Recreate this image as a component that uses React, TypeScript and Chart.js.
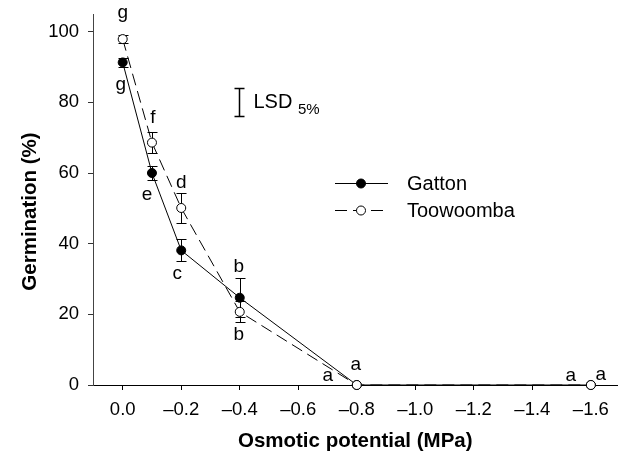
import { useEffect, useRef } from 'react';
import { Chart, registerables } from 'chart.js';

Chart.register(...registerables);

// ---- data ----
const potentials = [0, -0.1, -0.2, -0.4, -0.8, -1.6];
const gatton = [91.3, 60, 38.1, 24.7, 0, 0];
const gattonErr = [1.2, 2.1, 3.1, 5.5, 0, 0];
const gattonLetters = ['g', 'e', 'c', 'b', 'a', 'a'];
const toowoomba = [97.9, 68.6, 50.1, 20.7, 0, 0];
const toowoombaErr = [1.1, 3, 4.2, 3, 0, 0];
const toowoombaLetters = ['g', 'f', 'd', 'b', 'a', 'a'];
const xTickValues = [0, -0.2, -0.4, -0.6, -0.8, -1.0, -1.2, -1.4, -1.6];
const yTickValues = [0, 20, 40, 60, 80, 100];
const lsdAt = -0.4;
const lsdCenter = 80;
const lsdSize = 8;
const seriesNames = ['Gatton', 'Toowoomba'];
const xTitle = 'Osmotic potential (MPa)';
const yTitle = 'Germination (%)';

const FONT = '"Liberation Sans", Arial, sans-serif';

// letter placement offsets (px) relative to each point
const gattonLetterOffsets = [[-2, 22], [-5, 22], [-4, 23], [-1, -31], [-29, -9], [-20, -9]];
const toowoombaLetterOffsets = [[0, -26], [1, -25], [0, -25], [-1, 23], [-1, -20], [10, -10]];

const fmtX = (v: number) => (Math.abs(v) < 1e-9 ? '0.0' : '\u2013' + Math.abs(v).toFixed(1));

const annotate = {
  id: 'annotate',
  beforeDatasetsDraw(chart: any) {
    const { ctx, scales } = chart;
    const x = scales.x, y = scales.y;
    ctx.save();
    ctx.strokeStyle = '#000';
    ctx.lineWidth = 1;
    const sets: [number[], number[]][] = [[gatton, gattonErr], [toowoomba, toowoombaErr]];
    for (const [vals, errs] of sets) {
      vals.forEach((v, i) => {
        if (!errs[i]) return;
        const px = Math.round(x.getPixelForValue(potentials[i])) + 0.5;
        const t = Math.round(y.getPixelForValue(v + errs[i])) + 0.5;
        const b = Math.round(y.getPixelForValue(v - errs[i])) + 0.5;
        ctx.beginPath();
        ctx.moveTo(px, t); ctx.lineTo(px, b);
        ctx.moveTo(px - 5, t); ctx.lineTo(px + 5, t);
        ctx.moveTo(px - 5, b); ctx.lineTo(px + 5, b);
        ctx.stroke();
      });
    }
    ctx.restore();
  },
  afterDraw(chart: any) {
    const { ctx, scales, chartArea } = chart;
    const x = scales.x, y = scales.y;
    ctx.save();
    ctx.fillStyle = '#000';
    ctx.strokeStyle = '#000';
    // significance letters
    ctx.font = `19px ${FONT}`;
    ctx.textAlign = 'center';
    ctx.textBaseline = 'middle';
    const letterSets: [number[], string[], number[][]][] = [
      [gatton, gattonLetters, gattonLetterOffsets],
      [toowoomba, toowoombaLetters, toowoombaLetterOffsets],
    ];
    for (const [vals, letters, offs] of letterSets) {
      vals.forEach((v, i) => {
        const px = x.getPixelForValue(potentials[i]);
        const py = y.getPixelForValue(v);
        ctx.fillText(letters[i], px + offs[i][0], py + offs[i][1]);
      });
    }
    // LSD bar
    const lx = Math.round(x.getPixelForValue(lsdAt)) - 1 + 0.5;
    const lt = Math.round(y.getPixelForValue(lsdCenter + lsdSize / 2)) + 0.5;
    const lb = Math.round(y.getPixelForValue(lsdCenter - lsdSize / 2)) + 0.5;
    ctx.lineWidth = 1.5;
    ctx.beginPath();
    ctx.moveTo(lx, lt); ctx.lineTo(lx, lb);
    ctx.moveTo(lx - 5, lt); ctx.lineTo(lx + 5, lt);
    ctx.moveTo(lx - 5, lb); ctx.lineTo(lx + 5, lb);
    ctx.stroke();
    ctx.textAlign = 'left';
    ctx.font = `20px ${FONT}`;
    const lcy = (lt + lb) / 2;
    ctx.fillText('LSD', lx + 14, lcy);
    const lw = ctx.measureText('LSD ').width;
    ctx.font = `15px ${FONT}`;
    ctx.fillText('5%', lx + 14 + lw, lcy + 7);

    // legend
    const legendRows = [
      { name: seriesNames[0], y: 183, dash: [] as number[], fill: '#000' },
      { name: seriesNames[1], y: 210, dash: [12, 6], fill: '#fff' },
    ];
    for (const r of legendRows) {
      ctx.lineWidth = 1;
      ctx.setLineDash(r.dash);
      ctx.beginPath();
      ctx.moveTo(335, r.y + 0.5); ctx.lineTo(388, r.y + 0.5);
      ctx.stroke();
      ctx.setLineDash([]);
      ctx.beginPath();
      ctx.arc(361, r.y + 0.5, 4.5, 0, Math.PI * 2);
      ctx.fillStyle = r.fill;
      ctx.fill();
      ctx.stroke();
      ctx.fillStyle = '#000';
      ctx.font = `20px ${FONT}`;
      ctx.textAlign = 'left';
      ctx.fillText(r.name, 407, r.y + 1);
    }

    // axis titles
    ctx.font = `bold 20.5px ${FONT}`;
    ctx.textAlign = 'center';
    ctx.textBaseline = 'middle';
    ctx.fillText(xTitle, (chartArea.left + chartArea.right) / 2, 441);
    ctx.translate(30, (chartArea.top + chartArea.bottom) / 2 + 12);
    ctx.rotate(-Math.PI / 2);
    ctx.fillText(yTitle, 0, 0);
    ctx.restore();
  },
};

export default function App() {
  const ref = useRef<HTMLCanvasElement | null>(null);
  useEffect(() => {
    if (!ref.current) return;
    const chart = new Chart(ref.current, {
      type: 'line',
      data: {
        datasets: [
          {
            label: seriesNames[0],
            data: potentials.map((p, i) => ({ x: p, y: gatton[i] })),
            borderColor: '#000',
            borderWidth: 1,
            pointRadius: 4.5,
            pointBackgroundColor: '#000',
            pointBorderColor: '#000',
            pointBorderWidth: 1,
            tension: 0,
            clip: false as any,
            order: 1,
          },
          {
            label: seriesNames[1],
            data: potentials.map((p, i) => ({ x: p, y: toowoomba[i] })),
            borderColor: '#000',
            borderWidth: 1,
            borderDash: [12, 6],
            pointRadius: 4.5,
            pointBackgroundColor: '#fff',
            pointBorderColor: '#000',
            pointBorderWidth: 1,
            tension: 0,
            clip: false as any,
            order: 0,
          },
        ],
      },
      options: {
        responsive: false,
        animation: false,
        layout: { padding: { top: 14, left: 0, right: 0, bottom: 0 } },
        plugins: { legend: { display: false }, tooltip: { enabled: false } },
        scales: {
          x: {
            type: 'linear',
            reverse: true,
            min: -1.691,
            max: 0.1015,
            afterBuildTicks: (s: any) => { s.ticks = xTickValues.map((v) => ({ value: v })); },
            afterFit: (s: any) => { s.height = 79; s.paddingLeft = 0; s.paddingRight = 0; },
            grid: { display: true, drawOnChartArea: false, drawTicks: true, tickLength: 5, tickColor: '#000', color: '#000' },
            border: { display: true, color: '#000', width: 1 },
            ticks: {
              color: '#000',
              font: { family: FONT, size: 18.5 },
              padding: 9,
              maxRotation: 0,
              autoSkip: false,
              callback: (v: any) => fmtX(Number(v)),
            },
          },
          y: {
            type: 'linear',
            min: 0,
            max: 105,
            afterBuildTicks: (s: any) => { s.ticks = yTickValues.map((v) => ({ value: v })); },
            afterFit: (s: any) => { s.width = 93; s.paddingTop = 0; s.paddingBottom = 0; },
            grid: { display: true, drawOnChartArea: false, drawTicks: true, tickLength: 5, tickColor: '#333', color: '#333' },
            border: { display: true, color: '#444', width: 1 },
            ticks: {
              color: '#000',
              font: { family: FONT, size: 18.5 },
              padding: 9,
              autoSkip: false,
            },
          },
        },
      },
      plugins: [annotate],
    });
    return () => chart.destroy();
  }, []);
  return (
    <div style={{ position: 'fixed', left: 0, top: 0, width: 623, height: 464, background: '#fff' }}>
      <canvas ref={ref} width={623} height={464} />
    </div>
  );
}
